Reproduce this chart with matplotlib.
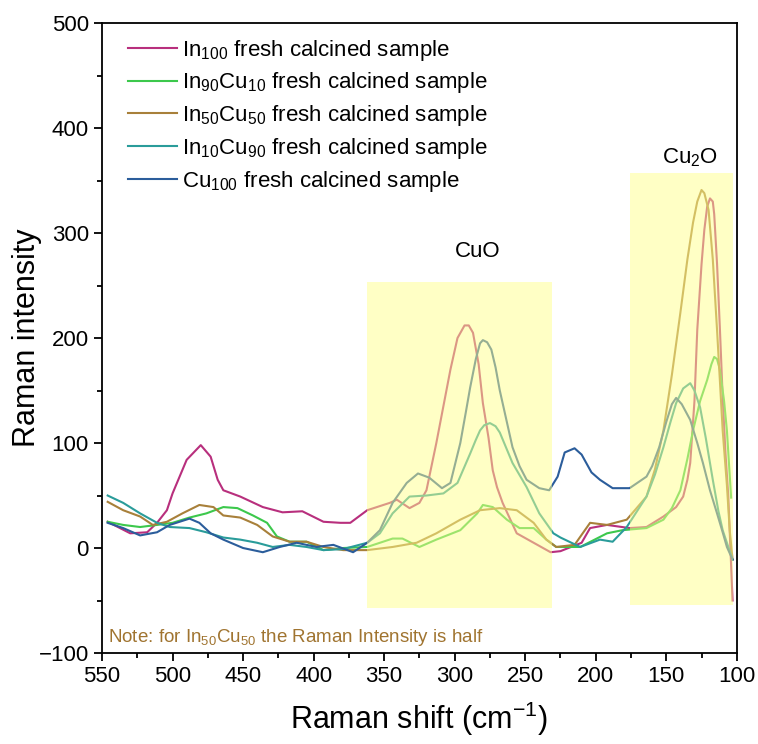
import numpy as np
import matplotlib.pyplot as plt
from matplotlib.patches import Rectangle
from matplotlib.ticker import MultipleLocator

plt.rcParams['font.family'] = ['Liberation Sans', 'DejaVu Sans']
plt.rcParams['mathtext.fontset'] = 'custom'
plt.rcParams['mathtext.rm'] = 'Liberation Sans'
plt.rcParams['mathtext.it'] = 'Liberation Sans'

# Raman spectra (shift in cm-1, intensity)
in100_x = [546, 530, 518, 511, 504, 500, 490, 480, 473, 468, 464, 452, 436, 422, 408, 393, 381,
           374, 362, 346, 341, 332, 325, 320, 313, 308, 303, 298, 293, 290, 287, 283, 280, 276,
           273, 270, 266, 256, 244, 232, 225, 210, 204, 192, 176, 164, 152, 143, 138, 135, 133,
           130, 128, 125, 123, 121, 119, 117, 116, 114, 112, 110, 108, 106, 103]
in100_y = [25, 14, 15, 24, 36, 52, 84, 98, 87, 65, 55, 49, 39, 34, 35, 25, 24,
           24, 36, 43, 46, 38, 43, 55, 100, 135, 170, 200, 212, 212, 205, 175, 138, 105,
           74, 58, 43, 14, 5, -4, -3, 5, 19, 22, 19, 20, 30, 39, 49, 65, 81,
           140, 208, 270, 303, 325, 333, 330, 318, 271, 210, 144, 90, 49, -50]

in90_x = [546, 535, 523, 511, 500, 488, 476, 464, 454, 443, 433, 426, 417, 405, 393, 379, 362,
          344, 337, 325, 313, 296, 284, 280, 273, 263, 254, 244, 235, 228, 211, 192, 181, 164,
          152, 146, 140, 135, 131, 126, 121, 118, 116, 114, 112, 109, 107, 104]
in90_y = [25, 22, 20, 22, 24, 29, 33, 39, 38, 31, 24, 11, 6, 6, -2, 0, 1,
          9, 9, 1, 8, 17, 33, 41, 39, 27, 19, 19, 8, 1, 1, 14, 17, 19,
          27, 38, 55, 85, 112, 140, 160, 175, 182, 180, 170, 140, 112, 48]

in50_x = [546, 535, 523, 514, 504, 493, 481, 471, 464, 452, 440, 429, 417, 405, 393, 379, 362,
          344, 327, 313, 296, 282, 268, 256, 244, 235, 228, 215, 204, 192, 178, 164, 158, 152,
          146, 140, 135, 131, 128, 125, 123, 120, 117, 114, 112, 110, 107, 105, 103]
in50_y = [44, 36, 30, 22, 25, 33, 41, 39, 31, 29, 22, 11, 6, 6, 1, -2, -2,
          1, 5, 14, 27, 36, 38, 36, 24, 8, 1, 3, 24, 22, 27, 49, 75, 112,
          165, 224, 275, 310, 330, 341, 338, 322, 275, 208, 160, 112, 60, 17, -11]

in10_x = [546, 535, 523, 511, 502, 488, 476, 464, 452, 440, 429, 417, 405, 393, 379, 362,
          353, 344, 332, 320, 308, 298, 289, 285, 282, 279, 275, 271, 268, 259, 249, 240, 230,
          225, 211, 197, 188, 178, 164, 158, 152, 147, 143, 138, 133, 130, 126, 122, 117, 113,
          110, 103]
in10_y = [50, 43, 33, 24, 20, 19, 15, 10, 8, 5, 1, 3, 1, -2, -1, 5,
          14, 33, 49, 50, 52, 62, 90, 103, 112, 117, 119, 116, 110, 81, 58, 33, 14,
          10, 1, 8, 6, 20, 49, 70, 96, 120, 138, 152, 157, 150, 134, 105, 65, 35,
          17, -11]

cu100_x = [546, 535, 523, 511, 502, 488, 481, 473, 464, 450, 436, 424, 412, 398, 386, 372, 362,
           353, 344, 334, 326, 318, 309, 303, 296, 292, 289, 285, 282, 280, 277, 274, 271, 268,
           263, 259, 254, 249, 240, 233, 227, 222, 215, 210, 203, 197, 188, 176, 164, 160, 155,
           150, 146, 143, 139, 133, 128, 124, 119, 114, 110, 107, 103]
cu100_y = [24, 19, 12, 15, 22, 28, 24, 14, 8, 0, -4, 1, 5, 1, 3, -4, 5,
           17, 43, 62, 71, 67, 57, 62, 100, 130, 153, 180, 195, 198, 196, 189, 172, 150,
           120, 96, 78, 65, 57, 55, 68, 91, 95, 89, 72, 65, 57, 57, 68, 78, 96,
           120, 137, 143, 137, 122, 100, 81, 55, 33, 15, 1, -11]

labels = [r'$\mathregular{In_{100}}$ fresh calcined sample',
          r'$\mathregular{In_{90}Cu_{10}}$ fresh calcined sample',
          r'$\mathregular{In_{50}Cu_{50}}$ fresh calcined sample',
          r'$\mathregular{In_{10}Cu_{90}}$ fresh calcined sample',
          r'$\mathregular{Cu_{100}}$ fresh calcined sample']
colors = ['#B82F7D', '#3CC84C', '#A8803A', '#2A9C9A', '#2B5D9B']
series = [(in100_x, in100_y), (in90_x, in90_y), (in50_x, in50_y),
          (in10_x, in10_y), (cu100_x, cu100_y)]

fig = plt.figure(figsize=(7.58, 7.44), dpi=100)
ax = fig.add_axes([0.1346, 0.1223, 0.8374, 0.8467])

for (x, y), c, lab in zip(series, colors, labels):
    ax.plot(x, y, color=c, lw=1.5, label=lab, zorder=2)

# highlighted regions drawn over the spectra
ax.add_patch(Rectangle((231, -57), 131, 310, facecolor='#FFFF8C', alpha=0.5,
                       edgecolor='none', zorder=3))
ax.add_patch(Rectangle((103, -54), 73, 411, facecolor='#FFFF8C', alpha=0.5,
                       edgecolor='none', zorder=3))

ax.text(284, 282, 'CuO', fontsize=16, ha='center', va='center')
ax.text(133, 372, r'$\mathregular{Cu_2O}$', fontsize=16, ha='center', va='center')
ax.text(546, -85, r'Note: for $\mathregular{In_{50}Cu_{50}}$ the Raman Intensity is half',
        fontsize=13.5, color='#A07430', ha='left', va='center')

ax.set_xlim(550, 100)
ax.set_ylim(-100, 500)
ax.xaxis.set_major_locator(MultipleLocator(50))
ax.xaxis.set_minor_locator(MultipleLocator(25))
ax.yaxis.set_major_locator(MultipleLocator(100))
ax.yaxis.set_minor_locator(MultipleLocator(50))
ax.tick_params(which='major', direction='out', length=6, width=1.3, labelsize=16)
ax.tick_params(which='minor', direction='out', length=3.5, width=1.3)
for s in ax.spines.values():
    s.set_linewidth(1.3)

ax.set_xlabel(r'Raman shift (cm$\mathregular{^{-1}}$)', fontsize=22, labelpad=9)
ax.set_ylabel('Raman intensity', fontsize=22)
ax.yaxis.set_label_coords(-0.094, 0.5)

ax.legend(loc='upper left', frameon=False, fontsize=16, handlelength=2.2,
          handletextpad=0.25, labelspacing=0.35, borderaxespad=0.2,
          bbox_to_anchor=(0.02, 0.998))

plt.savefig('out.png', dpi=100)
